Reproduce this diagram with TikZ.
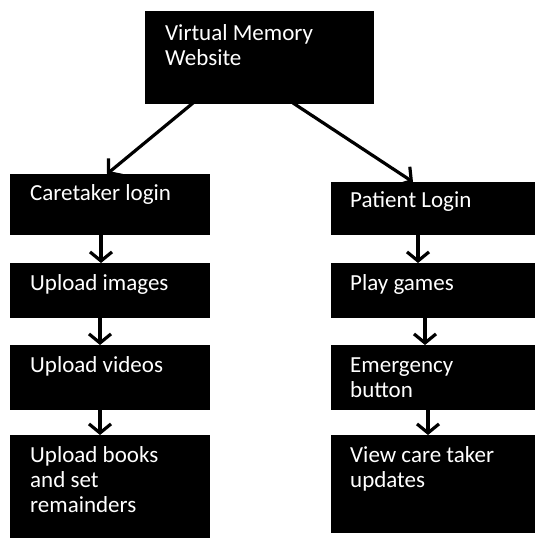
\documentclass[tikz,border=0pt]{standalone}
\usepackage{fontspec}
\setmainfont{Carlito}
\usetikzlibrary{arrows.meta}
\newcommand{\firstline}{\rule{0pt}{17pt}}
\begin{document}
\begin{tikzpicture}[x=1pt,y=-1pt,
  box/.style={fill=black,draw=black,inner sep=0pt,outer sep=0pt,anchor=north west},
  lbl/.style={text=white,anchor=north west,inner sep=0pt,align=left,
    font=\fontsize{23}{25}\selectfont},
  arr/.style={line width=3.2pt,-{Straight Barb[length=9pt,width=22pt,line width=3.2pt]}}]
\useasboundingbox (0,0) rectangle (535,538);
% boxes
\node[box,minimum width=228pt,minimum height=92pt] (top) at (145,11) {};
\node[box,minimum width=199pt,minimum height=60pt] (c1) at (10,174) {};
\node[box,minimum width=199pt,minimum height=54pt] (c2) at (10,263) {};
\node[box,minimum width=199pt,minimum height=64pt] (c3) at (10,345) {};
\node[box,minimum width=199pt,minimum height=103pt] (c4) at (10,435) {};
\node[box,minimum width=204pt,minimum height=52pt] (p1) at (331,182) {};
\node[box,minimum width=204pt,minimum height=54pt] (p2) at (331,263) {};
\node[box,minimum width=204pt,minimum height=64pt] (p3) at (331,345) {};
\node[box,minimum width=204pt,minimum height=97pt] (p4) at (331,435) {};
% texts (first baseline = y + 17)
\node[lbl] (ttop) at (165,23) {\firstline Virtual Memory\\Website};
\node[lbl] (tc1) at (30,183) {\firstline Caretaker login};
\node[lbl] (tc2) at (30,273) {\firstline Upload images};
\node[lbl] (tc3) at (30,355) {\firstline Upload videos};
\node[lbl] (tc4) at (30,445) {\firstline Upload books\\and set\\remainders};
\node[lbl] (tp1) at (350,190) {\firstline Patient Login};
\node[lbl] (tp2) at (350,273) {\firstline Play games};
\node[lbl] (tp3) at (350,355) {\firstline Emergency\\button};
\node[lbl] (tp4) at (350,445) {\firstline View care taker\\updates};
% arrows
\coordinate (a1s) at (193,103); \coordinate (a1e) at (107,174);
\coordinate (a2s) at (293,103); \coordinate (a2e) at (413,182);
\draw[arr] (a1s) -- (a1e);
\draw[arr] (a2s) -- (a2e);
\draw[arr] (c1.south west) ++(91,0) coordinate (l1) (l1) -- (l1 |- c2.north);
\draw[arr] (c2.south west) ++(90,0) coordinate (l2) (l2) -- (l2 |- c3.north);
\draw[arr] (c3.south west) ++(90,0) coordinate (l3) (l3) -- (l3 |- c4.north);
\draw[arr] (p1.south west) ++(87,0) coordinate (r1) (r1) -- (r1 |- p2.north);
\draw[arr] (p2.south west) ++(94,0) coordinate (r2) (r2) -- (r2 |- p3.north);
\draw[arr] (p3.south west) ++(97,0) coordinate (r3) (r3) -- (r3 |- p4.north);
\end{tikzpicture}
\end{document}
